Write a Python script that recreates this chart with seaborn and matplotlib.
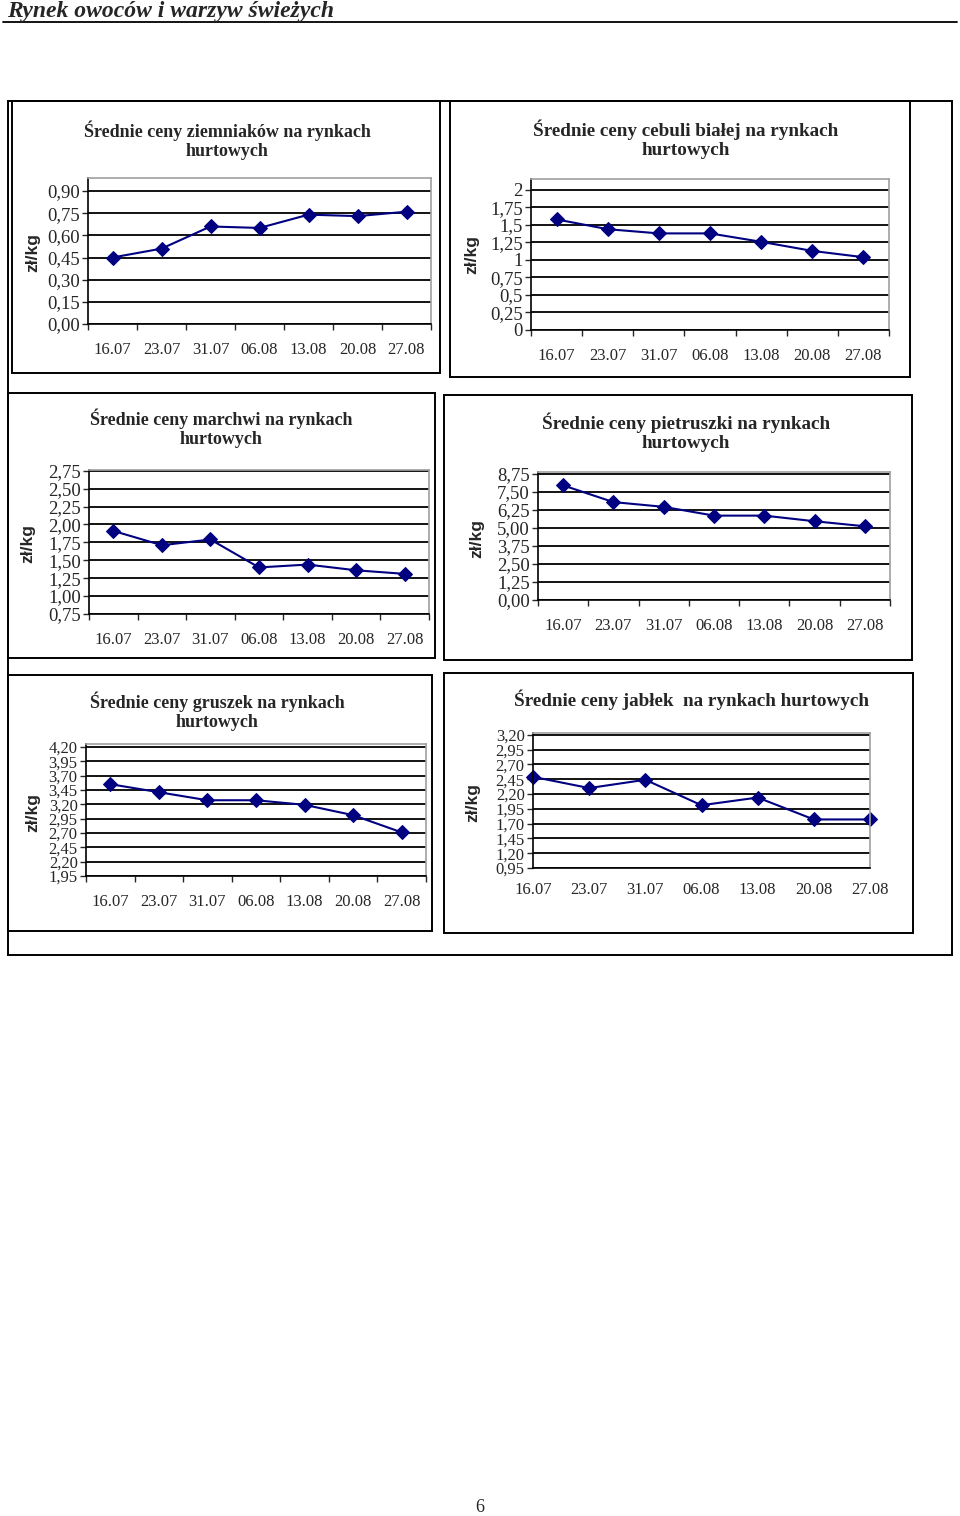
import matplotlib
matplotlib.use("Agg")
import matplotlib.pyplot as plt
from matplotlib.patches import Rectangle
from matplotlib.lines import Line2D
import seaborn as sns
import numpy as np

# Data
dates = ["16.07", "23.07", "31.07", "06.08", "13.08", "20.08", "27.08"]

ziemniaki = [0.45, 0.51, 0.66, 0.65, 0.74, 0.73, 0.76]
cebula = [1.58, 1.44, 1.38, 1.38, 1.26, 1.13, 1.04]
marchew = [1.91, 1.71, 1.79, 1.40, 1.44, 1.36, 1.31]
pietruszka = [7.96, 6.80, 6.47, 5.86, 5.86, 5.47, 5.12]
gruszki = [3.55, 3.41, 3.27, 3.27, 3.19, 3.01, 2.71]
jablka = [2.49, 2.30, 2.44, 2.01, 2.14, 1.77, 1.77]

ticks_ziemniaki = [0.00, 0.15, 0.30, 0.45, 0.60, 0.75, 0.90]
ticks_cebula = [0, 0.25, 0.5, 0.75, 1, 1.25, 1.5, 1.75, 2]
ticks_marchew = [0.75, 1.00, 1.25, 1.50, 1.75, 2.00, 2.25, 2.50, 2.75]
ticks_pietruszka = [0.00, 1.25, 2.50, 3.75, 5.00, 6.25, 7.50, 8.75]
ticks_gruszki = [1.95, 2.20, 2.45, 2.70, 2.95, 3.20, 3.45, 3.70, 3.95, 4.20]
ticks_jablka = [0.95, 1.20, 1.45, 1.70, 1.95, 2.20, 2.45, 2.70, 2.95, 3.20]

titles = [
    "Średnie ceny ziemniaków na rynkach\nhurtowych",
    "Średnie ceny cebuli białej na rynkach\nhurtowych",
    "Średnie ceny marchwi na rynkach\nhurtowych",
    "Średnie ceny pietruszki na rynkach\nhurtowych",
    "Średnie ceny gruszek na rynkach\nhurtowych",
    "Średnie ceny jabłek  na rynkach hurtowych",
]

W, H = 960, 1516

sns.set_style("white")
plt.rcParams["font.family"] = ["Liberation Serif", "DejaVu Serif"]

fig = plt.figure(figsize=(W / 100, H / 100), dpi=100)


def fx(x):
    return x / W


def fy(y):
    return 1 - y / H


# page header
fig.text(fx(7), fy(17), "Rynek owoców i warzyw świeżych", fontsize=17,
         fontweight="bold", fontstyle="italic", va="baseline", ha="left")
fig.add_artist(Line2D([fx(3), fx(957)], [fy(22), fy(22)], color="black",
                      lw=1.3, transform=fig.transFigure))

# frames (pixel boxes: left, top, right, bottom)
frames = [(8, 101, 952, 955), (12, 101, 440, 373), (450, 101, 910, 377),
          (8, 393, 435, 658), (444, 395, 912, 660),
          (8, 675, 432, 931), (444, 673, 913, 933)]
for l, t, r, b in frames:
    fig.add_artist(Rectangle((fx(l), fy(b)), fx(r - l), (b - t) / H, fill=False,
                             edgecolor="black", lw=1.4, transform=fig.transFigure))

# panels: values, ticks, plot box, ylim top, title centre, ylabel pos, label fmt,
# points on ticks, ytick size, title size
panels = [
    (ziemniaki, ticks_ziemniaki, (88, 178, 431, 324), 0.988, (227, 140), (33, 252), "{:.2f}", False, 13.5, 13),
    (cebula, ticks_cebula, (531, 179, 889, 330), 2.157, (686, 139), (472, 255), "{:g}", False, 13.5, 13.8),
    (marchew, ticks_marchew, (89, 470, 429, 614), 2.76, (221, 428), (28, 543), "{:.2f}", False, 13.5, 13),
    (pietruszka, ticks_pietruszka, (538, 472, 890, 600), 8.89, (686, 432), (477, 538), "{:.2f}", False, 13.5, 13.8),
    (gruszki, ticks_gruszki, (86, 744, 426, 876), 4.25, (217, 711), (33, 812), "{:.2f}", False, 12, 13),
    (jablka, ticks_jablka, (533, 733, 870, 868), 3.23, (691, 700), (473, 803), "{:.2f}", True, 12, 13.8),
]

for i, (vals, yt, box, ytop, tpos, lpos, fmt, on_ticks, ysz, tsz) in enumerate(panels):
    l, t, r, b = box
    ax = fig.add_axes([fx(l), fy(b), fx(r - l), (b - t) / H])
    sns.lineplot(x=dates, y=vals, ax=ax, color="#000080", marker="D",
                 markersize=7, markeredgecolor="#000080", lw=1.5, sort=False)
    for ln in ax.lines:
        ln.set_clip_on(False)
    ax.set_ylim(yt[0], ytop)
    ax.set_yticks(yt)
    ax.set_yticklabels([fmt.format(v).replace(".", ",") for v in yt], fontsize=ysz)
    ax.yaxis.grid(True, color="black", lw=1.3)
    ax.set_axisbelow(True)
    if on_ticks:
        ax.set_xlim(0, 6)
        ax.tick_params(axis="x", which="major", length=4, width=1, direction="out", pad=6, labelsize=12)
    else:
        ax.set_xlim(-0.5, 6.5)
        ax.set_xticks(np.arange(-0.5, 7, 1), minor=True)
        ax.tick_params(axis="x", which="major", length=0, pad=13, labelsize=12)
        ax.tick_params(axis="x", which="minor", length=4, width=1, direction="out", bottom=True)
    ax.tick_params(axis="y", length=4, width=1, direction="out", pad=2, left=True)
    ax.set_xlabel("")
    ax.set_ylabel("")
    for s in ["left", "bottom"]:
        ax.spines[s].set_color("black")
        ax.spines[s].set_linewidth(1.2)
    for s in ["top", "right"]:
        ax.spines[s].set_color("#a0a0a0")
        ax.spines[s].set_linewidth(1.2)

    fig.text(fx(tpos[0]), fy(tpos[1]), titles[i], fontsize=tsz, fontweight="bold",
             ha="center", va="center", linespacing=1.15)
    fig.text(fx(lpos[0]), fy(lpos[1]), "zł/kg", fontsize=12.5, fontweight="bold",
             family="Liberation Sans", rotation=90, ha="center", va="center")

# page number
fig.text(fx(480), fy(1507), "6", fontsize=13, ha="center", va="center")

fig.savefig("out.png", dpi=100)
